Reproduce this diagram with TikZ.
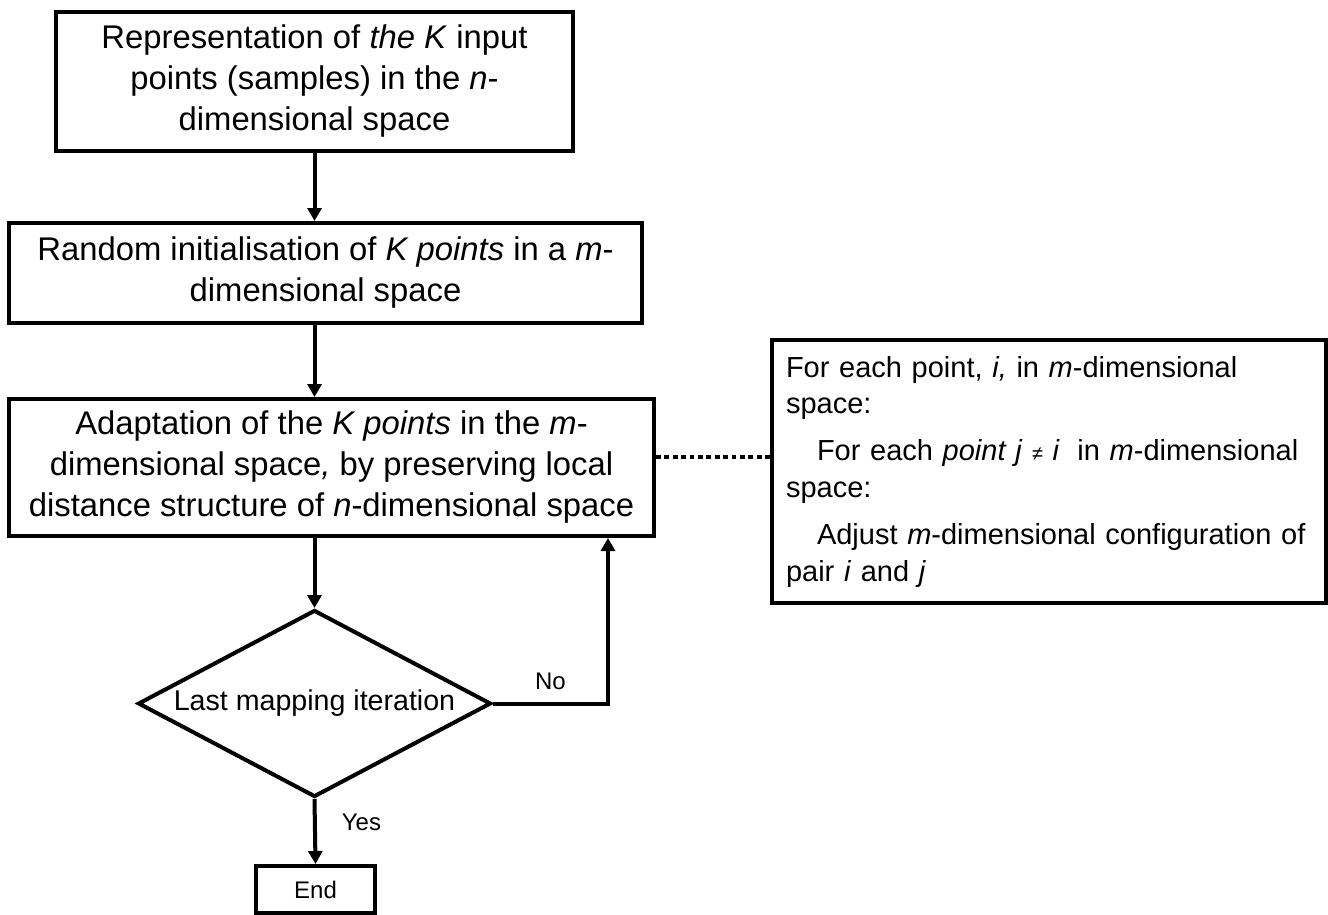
\documentclass[tikz,border=0pt]{standalone}
\usepackage{fontspec}
\setmainfont{Liberation Sans}
\usetikzlibrary{arrows.meta,shapes.geometric}
\begin{document}
\begin{tikzpicture}[x=0.5pt,y=-0.5pt,
  stepbox/.style={draw,line width=2pt,inner sep=0pt,align=center,font=\fontsize{16.4}{20.5}\selectfont},
  notebox/.style={draw,line width=2pt,inner xsep=7pt,inner ysep=0pt,align=left,text width=263pt,font=\fontsize{14.5}{18}\selectfont},
  decision/.style={draw,diamond,line width=2pt,inner sep=0pt,aspect=1.89,font=\fontsize{14.3}{17}\selectfont},
  endbox/.style={draw,line width=2pt,inner sep=0pt,font=\fontsize{12}{14}\selectfont},
  arr/.style={line width=2pt,-{Triangle[length=6.5pt,width=7pt]}},
  dotline/.style={line width=2pt,dash pattern=on 2.4pt off 1.8pt},
  lbl/.style={font=\fontsize{12}{14}\selectfont,inner sep=0pt}]
\useasboundingbox (0,0) rectangle (1328,915);
\node[stepbox,minimum width=258.5pt,minimum height=69.5pt] (b1) at (314.5,81.5)
  {Representation of \textit{the K} input\\points (samples) in the \textit{n}-\\dimensional space};
\node[stepbox,minimum width=316.5pt,minimum height=50pt] (b2) at (325.5,273)
  {Random initialisation of \textit{K points} in a \textit{m}-\\dimensional space};
\node[stepbox,minimum width=322.5pt,minimum height=68.5pt] (b3) at (331.5,467.5)
  {Adaptation of the \textit{K points} in the \textit{m}-\\dimensional space\textit{,} by preserving local\\distance structure of \textit{n}-dimensional space};
\node[decision,minimum width=176.5pt,minimum height=93.5pt] (dia) at (314.5,703.5) {Last mapping iteration};
\node[endbox,minimum width=59.5pt,minimum height=23.5pt] (end) at (315.5,889.5) {End};
\node[notebox,minimum height=131.5pt] (note) at (1049,471.5)
  {\raggedright
   For each point, \textit{i,} in \textit{m}-dimensional\\
   space:\\[6pt]
   \hspace*{15.5pt}For each \textit{point j} {\fontsize{10}{10}\selectfont ≠} \textit{i}\hspace{4pt} in \textit{m}-dimensional\\
   space:\\[6pt]
   \hspace*{15.5pt}Adjust \textit{m}-dimensional configuration of\\
   pair \textit{i} and \textit{j}};
\coordinate (ret) at (608,0);
\coordinate (dl) at (0,457);
\draw[arr] (dia.north |- b1.south) -- (dia.north |- b2.north);
\draw[arr] (dia.north |- b2.south) -- (dia.north |- b3.north);
\draw[arr] (dia.north |- b3.south) -- (dia.north);
\draw[arr] (dia.east) -| (ret |- b3.south)
  node[lbl,pos=0.25,anchor=south,yshift=6pt] {No};
\draw[arr] (dia.south) -- (end.north)
  node[lbl,pos=0.36,anchor=west,xshift=12.5pt] {Yes};
\draw[dotline] (b3.east |- dl) -- (note.west |- dl);
\end{tikzpicture}
\end{document}
